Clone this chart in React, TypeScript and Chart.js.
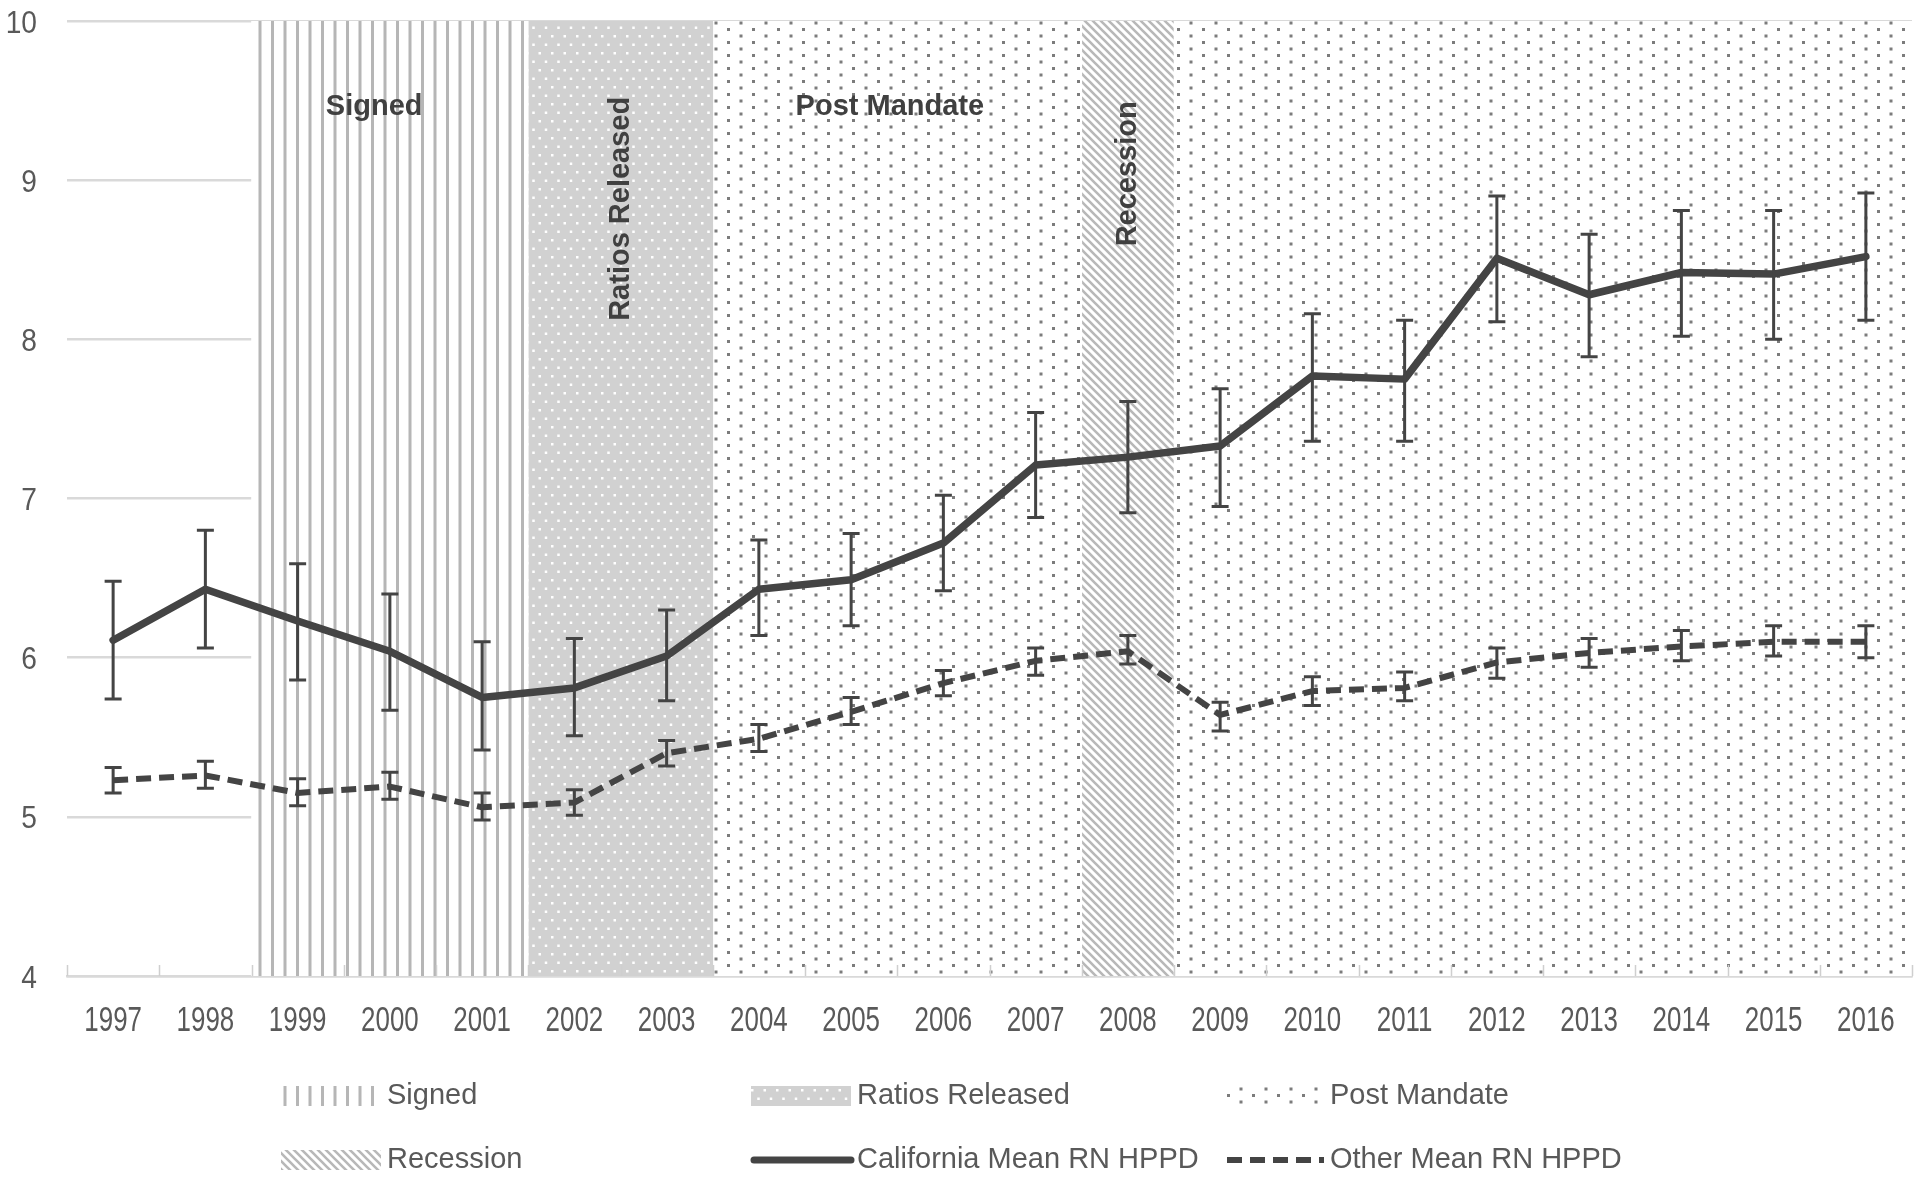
import React, { useEffect, useRef } from 'react';
import { Chart, registerables } from 'chart.js';

Chart.register(...registerables);

// ---------- data ----------
const YEARS = ['1997', '1998', '1999', '2000', '2001', '2002', '2003', '2004', '2005', '2006', '2007', '2008', '2009', '2010', '2011', '2012', '2013', '2014', '2015', '2016'];

const CALIFORNIA_MEAN = [6.11, 6.43, 6.23, 6.04, 5.75, 5.81, 6.01, 6.43, 6.49, 6.72, 7.21, 7.26, 7.33, 7.77, 7.75, 8.51, 8.28, 8.42, 8.41, 8.52];
const CALIFORNIA_UPPER = [6.48, 6.80, 6.59, 6.40, 6.10, 6.12, 6.30, 6.74, 6.78, 7.02, 7.54, 7.61, 7.69, 8.16, 8.12, 8.90, 8.66, 8.81, 8.81, 8.92];
const CALIFORNIA_LOWER = [5.74, 6.06, 5.86, 5.67, 5.42, 5.51, 5.73, 6.14, 6.20, 6.42, 6.88, 6.91, 6.95, 7.36, 7.36, 8.11, 7.89, 8.02, 8.00, 8.12];

const OTHER_MEAN = [5.23, 5.26, 5.15, 5.19, 5.06, 5.09, 5.40, 5.49, 5.66, 5.84, 5.98, 6.04, 5.64, 5.79, 5.81, 5.97, 6.03, 6.07, 6.10, 6.10];
const OTHER_UPPER = [5.31, 5.35, 5.24, 5.28, 5.15, 5.17, 5.48, 5.58, 5.75, 5.92, 6.06, 6.14, 5.72, 5.88, 5.91, 6.06, 6.12, 6.17, 6.20, 6.20];
const OTHER_LOWER = [5.15, 5.18, 5.07, 5.11, 4.98, 5.01, 5.32, 5.41, 5.58, 5.76, 5.89, 5.96, 5.54, 5.70, 5.73, 5.87, 5.94, 5.98, 6.01, 6.00];

const SIGNED_YEARS = ['1999', '2000', '2001'];
const RATIOS_YEARS = ['2002', '2003'];
const POST_MANDATE_YEARS = ['2004', '2005', '2006', '2007', '2009', '2010', '2011', '2012', '2013', '2014', '2015', '2016'];
const RECESSION_YEARS = ['2008'];

const Y_MIN = 4;
const Y_MAX = 10;
const Y_STEP = 1;

// ---------- styles ----------
const DARK = '#444444';
const TEXT = '#595959';
const SANS = "'Liberation Sans', Arial, sans-serif";

type Pats = { signed: CanvasPattern; ratios: CanvasPattern; post: CanvasPattern; recession: CanvasPattern };

function makePattern(ctx: CanvasRenderingContext2D, w: number, h: number, draw: (g: CanvasRenderingContext2D) => void): CanvasPattern {
  const c = document.createElement('canvas');
  c.width = w;
  c.height = h;
  const g = c.getContext('2d') as CanvasRenderingContext2D;
  draw(g);
  return ctx.createPattern(c, 'repeat') as CanvasPattern;
}

function buildPatterns(ctx: CanvasRenderingContext2D): Pats {
  const signed = makePattern(ctx, 25, 4, (g) => {
    g.fillStyle = '#ffffff';
    g.fillRect(0, 0, 25, 4);
    g.fillStyle = '#b6b6b6';
    g.fillRect(8.5, 0, 3, 4);
    g.fillRect(21, 0, 3, 4);
  });
  const ratios = makePattern(ctx, 25, 17, (g) => {
    g.fillStyle = '#d1d1d1';
    g.fillRect(0, 0, 25, 17);
    g.fillStyle = '#ffffff';
    g.fillRect(1, 1, 2.5, 2.5);
    g.fillRect(13.5, 1, 2.5, 2.5);
    g.fillRect(7.25, 9.5, 2.5, 2.5);
    g.fillRect(19.75, 9.5, 2.5, 2.5);
  });
  const post = makePattern(ctx, 25, 13, (g) => {
    g.fillStyle = '#ffffff';
    g.fillRect(0, 0, 25, 13);
    g.fillStyle = '#7c7c7c';
    g.fillRect(2, 2, 3, 3);
    g.fillRect(14.5, 8.5, 3, 3);
  });
  const recession = makePattern(ctx, 8, 8, (g) => {
    g.fillStyle = '#ffffff';
    g.fillRect(0, 0, 8, 8);
    g.strokeStyle = '#b8b8b8';
    g.lineWidth = 2.6;
    g.beginPath();
    for (const off of [-8, 0, 8]) {
      g.moveTo(off - 1, -1);
      g.lineTo(off + 9, 9);
    }
    g.stroke();
  });
  return { signed, ratios, post, recession };
}

const bandData = (yrs: string[]) => YEARS.map((yr) => (yrs.includes(yr) ? [Y_MIN, Y_MAX] : null));

// annotation texts placed via the category scale (index) and value scale
const BAND_TEXTS = [
  { text: 'Signed', index: 2.83, value: 9.46, vertical: false },
  { text: 'Ratios Released', index: 5.5, value: 8.82, vertical: true },
  { text: 'Post Mandate', index: 8.42, value: 9.46, vertical: false },
  { text: 'Recession', index: 11, value: 9.04, vertical: true },
];

const LEGEND_ROWS_Y = [1096, 1160];
const LEGEND_TEXT_X = [387, 857, 1330];

export default function App() {
  const ref = useRef<HTMLCanvasElement | null>(null);

  useEffect(() => {
    const canvas = ref.current;
    if (!canvas) return;
    const ctx0 = canvas.getContext('2d') as CanvasRenderingContext2D;
    const pats = buildPatterns(ctx0);

    const overlay = {
      id: 'overlay',
      afterDatasetsDraw(chart: any) {
        const { ctx } = chart;
        const x = chart.scales.x;
        const y = chart.scales.y;
        ctx.save();
        // category boundary tick marks (inside, upward)
        ctx.strokeStyle = '#cfcfcf';
        ctx.lineWidth = 1.5;
        ctx.beginPath();
        for (let i = 0; i <= YEARS.length; i++) {
          const px = Math.round(x.getPixelForValue(i - 0.5)) + 0.5;
          ctx.moveTo(px, y.bottom);
          ctx.lineTo(px, y.bottom - 11);
        }
        ctx.stroke();

        // error bars
        const drawErr = (upper: number[], lower: number[]) => {
          ctx.strokeStyle = DARK;
          ctx.lineWidth = 3;
          ctx.lineCap = 'butt';
          ctx.beginPath();
          for (let i = 0; i < YEARS.length; i++) {
            const px = x.getPixelForValue(i);
            const yt = y.getPixelForValue(upper[i]);
            const yb = y.getPixelForValue(lower[i]);
            ctx.moveTo(px, yt);
            ctx.lineTo(px, yb);
            ctx.moveTo(px - 8.5, yt);
            ctx.lineTo(px + 8.5, yt);
            ctx.moveTo(px - 8.5, yb);
            ctx.lineTo(px + 8.5, yb);
          }
          ctx.stroke();
        };
        drawErr(CALIFORNIA_UPPER, CALIFORNIA_LOWER);
        drawErr(OTHER_UPPER, OTHER_LOWER);

        // band texts
        ctx.fillStyle = '#404040';
        ctx.font = `bold 29px ${SANS}`;
        ctx.textAlign = 'center';
        ctx.textBaseline = 'middle';
        for (const b of BAND_TEXTS) {
          const px = x.getPixelForValue(b.index);
          const py = y.getPixelForValue(b.value);
          if (b.vertical) {
            ctx.save();
            ctx.translate(px, py);
            ctx.rotate(-Math.PI / 2);
            ctx.fillText(b.text, 0, 0);
            ctx.restore();
          } else {
            ctx.fillText(b.text, px, py);
          }
        }
        ctx.restore();
      },
      afterDraw(chart: any) {
        const { ctx } = chart;
        const x = chart.scales.x;
        const y = chart.scales.y;
        ctx.save();

        // axis tick labels (condensed)
        ctx.fillStyle = TEXT;
        ctx.textBaseline = 'alphabetic';
        ctx.font = `35px ${SANS}`;
        ctx.textAlign = 'center';
        x.getLabels().forEach((lab: string, i: number) => {
          ctx.save();
          ctx.translate(x.getPixelForValue(i), y.bottom + 55);
          ctx.scale(0.74, 1);
          ctx.fillText(lab, 0, 0);
          ctx.restore();
        });
        ctx.font = `32px ${SANS}`;
        ctx.textAlign = 'right';
        y.ticks.forEach((t: any) => {
          ctx.save();
          ctx.translate(x.left - 30, y.getPixelForValue(t.value) + 11.5);
          ctx.scale(0.88, 1);
          ctx.fillText(String(t.value), 0, 0);
          ctx.restore();
        });

        // legend
        const items = [
          { label: 'Signed', kind: 'fill', fill: pats.signed },
          { label: 'Ratios Released', kind: 'fill', fill: pats.ratios },
          { label: 'Post Mandate', kind: 'fill', fill: pats.post },
          { label: 'Recession', kind: 'fill', fill: pats.recession },
          { label: 'California Mean RN HPPD', kind: 'solid' },
          { label: 'Other Mean RN HPPD', kind: 'dash' },
        ];
        items.forEach((it, k) => {
          const row = Math.floor(k / 3);
          const col = k % 3;
          const ty = LEGEND_ROWS_Y[row];
          const tx = LEGEND_TEXT_X[col];
          const sx = tx - 106;
          const sw = 100;
          if (it.kind === 'fill') {
            ctx.fillStyle = it.fill;
            ctx.fillRect(sx, ty - 10, sw, 20);
          } else {
            ctx.strokeStyle = DARK;
            ctx.beginPath();
            if (it.kind === 'solid') {
              ctx.lineWidth = 7;
              ctx.lineCap = 'round';
              ctx.setLineDash([]);
            } else {
              ctx.lineWidth = 6;
              ctx.lineCap = 'butt';
              ctx.setLineDash([15, 8]);
            }
            ctx.moveTo(sx + 3, ty);
            ctx.lineTo(sx + sw, ty);
            ctx.stroke();
            ctx.setLineDash([]);
          }
          ctx.fillStyle = TEXT;
          ctx.font = `29px ${SANS}`;
          ctx.textAlign = 'left';
          ctx.textBaseline = 'middle';
          ctx.fillText(it.label, tx, ty);
        });
        ctx.restore();
      },
    };

    const bandDs = (label: string, yrs: string[], fill: CanvasPattern) => ({
      type: 'bar' as const,
      label,
      data: bandData(yrs),
      backgroundColor: fill,
      borderWidth: 0,
      barPercentage: 1,
      categoryPercentage: 1,
      grouped: false,
      order: 5,
    });

    const chart = new Chart(canvas, {
      type: 'line',
      data: {
        labels: YEARS,
        datasets: [
          {
            type: 'line',
            label: 'California Mean RN HPPD',
            data: CALIFORNIA_MEAN,
            borderColor: DARK,
            borderWidth: 7.5,
            pointRadius: 0,
            borderJoinStyle: 'round',
            borderCapStyle: 'round',
            tension: 0,
            order: 0,
          },
          {
            type: 'line',
            label: 'Other Mean RN HPPD',
            data: OTHER_MEAN,
            borderColor: DARK,
            borderWidth: 6,
            borderDash: [15, 8],
            pointRadius: 0,
            borderJoinStyle: 'round',
            tension: 0,
            order: 0,
          },
          bandDs('Signed', SIGNED_YEARS, pats.signed),
          bandDs('Ratios Released', RATIOS_YEARS, pats.ratios),
          bandDs('Post Mandate', POST_MANDATE_YEARS, pats.post),
          bandDs('Recession', RECESSION_YEARS, pats.recession),
        ] as any,
      },
      options: {
        responsive: false,
        animation: false,
        devicePixelRatio: 1,
        layout: { padding: { top: 21, right: 8, left: 0, bottom: 0 } },
        plugins: { legend: { display: false }, tooltip: { enabled: false } },
        scales: {
          x: {
            offset: true,
            grid: { display: false },
            border: { display: true, color: '#d9d9d9', width: 2.5 },
            ticks: { display: false, autoSkip: false, maxRotation: 0 },
            afterFit: (s: any) => {
              s.height = 202;
            },
          },
          y: {
            min: Y_MIN,
            max: Y_MAX,
            ticks: { display: false, stepSize: Y_STEP },
            grid: { color: '#d9d9d9', lineWidth: 2.5, drawTicks: false },
            border: { display: false },
            afterFit: (s: any) => {
              s.width = 67;
              s.paddingTop = 0;
              s.paddingBottom = 0;
            },
          },
        },
      },
      plugins: [overlay],
    } as any);

    return () => chart.destroy();
  }, []);

  return (
    <div style={{ position: 'absolute', left: 0, top: 0, width: 1920, height: 1178, background: '#ffffff' }}>
      <canvas ref={ref} width={1920} height={1178} style={{ width: 1920, height: 1178, display: 'block' }} />
    </div>
  );
}
